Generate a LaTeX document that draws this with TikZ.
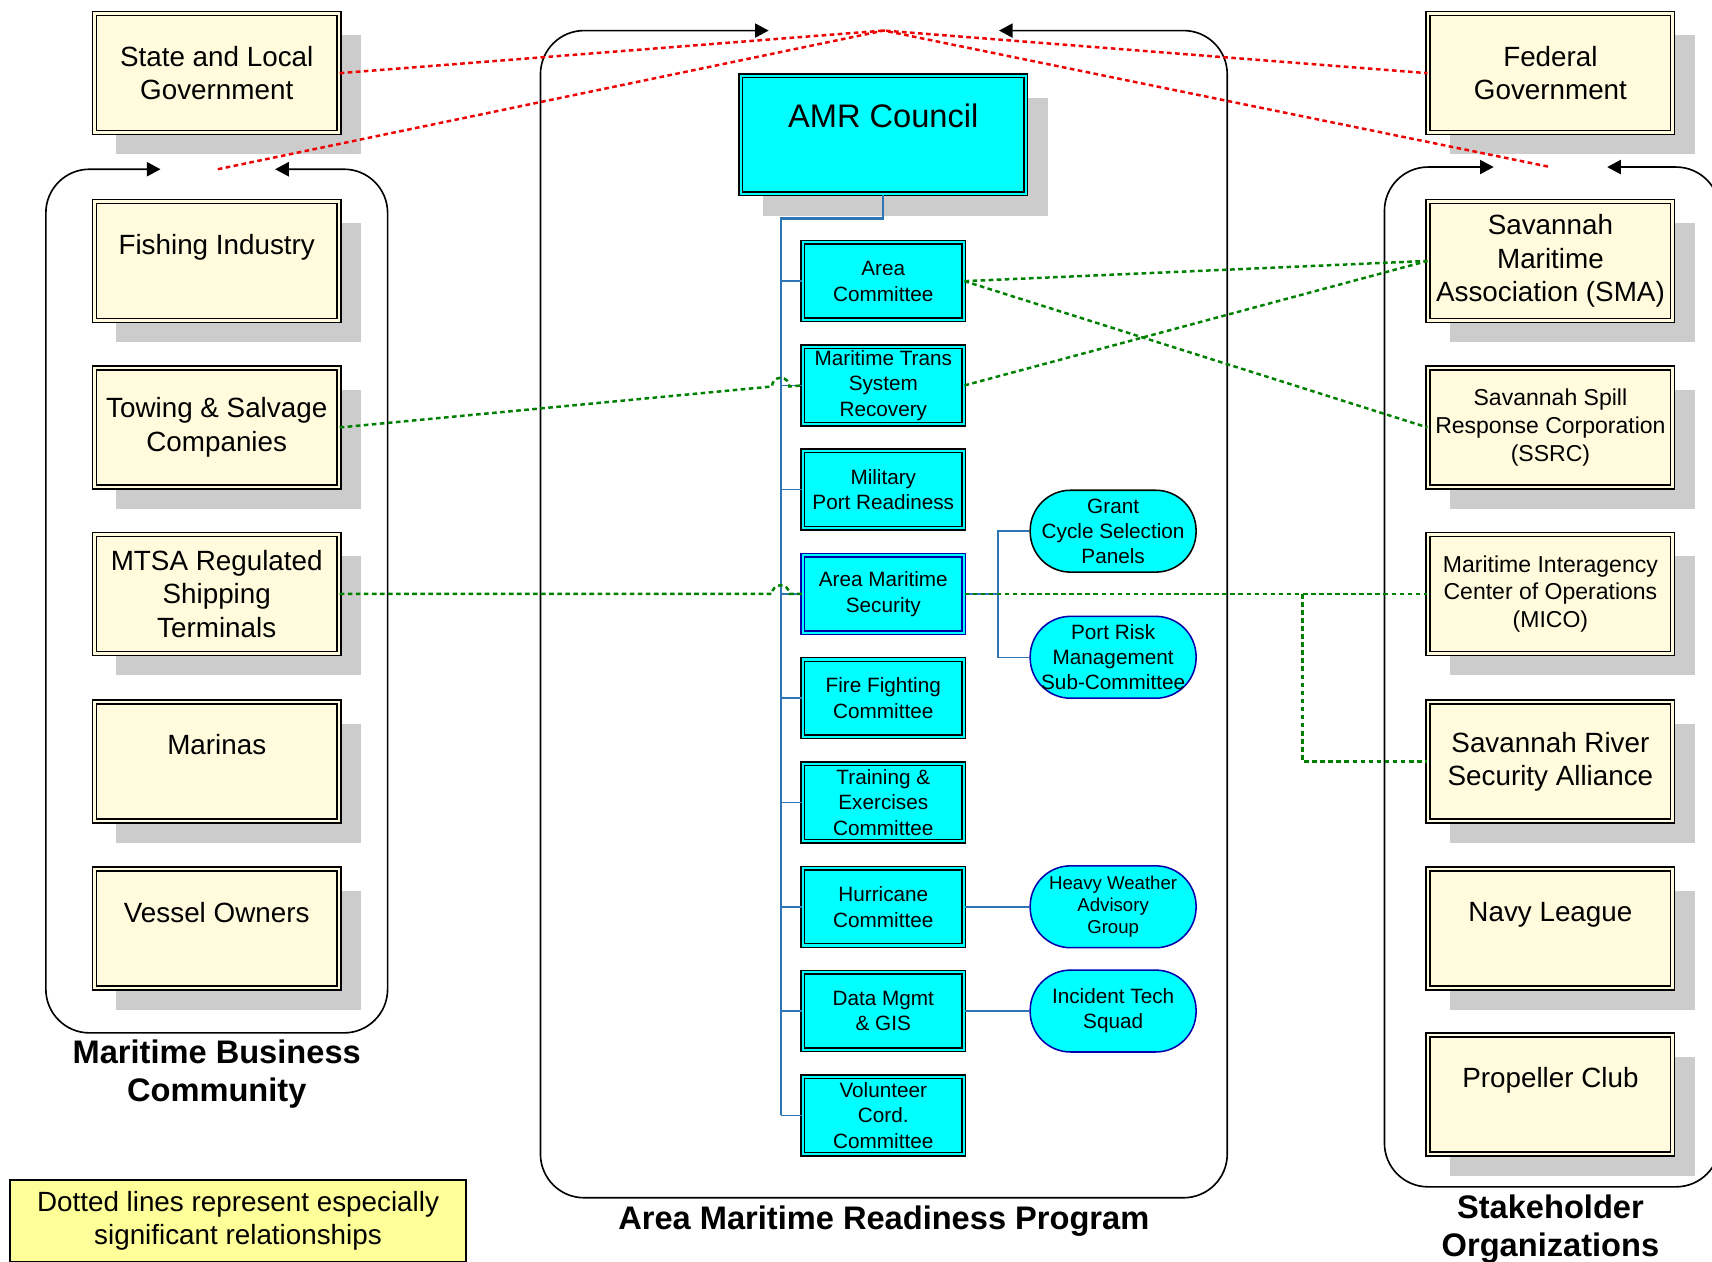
\documentclass[tikz,border=0pt]{standalone}
\usepackage{fontspec}
\setmainfont{Liberation Sans}
\usepackage{tikz}
\usetikzlibrary{arrows.meta,calc,shadows}

\definecolor{orgfill}{RGB}{255,251,220}
\definecolor{shadowgray}{RGB}{204,204,204}
\definecolor{amrcyan}{RGB}{0,255,255}
\definecolor{treeblue}{RGB}{46,117,182}
\definecolor{navyline}{RGB}{0,0,170}
\definecolor{notefill}{RGB}{255,255,153}
\definecolor{relgreen}{RGB}{0,128,0}
\definecolor{relred}{RGB}{240,0,0}

\begin{document}
\begin{tikzpicture}[x=0.02cm, y=-0.02cm,
  boxshadow/.style={general shadow={fill=shadowgray, shadow xshift=0.4cm, shadow yshift=-0.4cm}},
  orgbox/.style={draw=black, line width=0.75pt, double=orgfill, double distance=1.3pt,
    fill=orgfill, minimum width=4.48cm, minimum height=2.18cm, inner sep=1pt, align=center,
    boxshadow, font={\fontsize{14.5}{17.4}\selectfont}},
  cmtebox/.style={draw=black, line width=0.75pt, double=amrcyan, double distance=1.1pt,
    fill=amrcyan, minimum width=2.95cm, minimum height=1.42cm, inner sep=1pt, align=center,
    font={\fontsize{10.8}{13.4}\selectfont}},
  podbox/.style={draw=navyline, line width=0.8pt, fill=amrcyan, rounded corners=0.74cm,
    minimum width=3.04cm, minimum height=1.5cm, inner sep=0pt, align=center,
    font={\fontsize{10.8}{13.1}\selectfont}},
  grouptitle/.style={align=center, font={\bfseries\fontsize{17}{20}\selectfont}},
  legendbox/.style={draw=black, line width=0.8pt, fill=notefill, minimum width=8.36cm,
    minimum height=1.49cm, align=center, font={\fontsize{14.5}{17.1}\selectfont}},
  groupframe/.style={draw=black, line width=0.85pt, rounded corners=0.8cm,
    arrows={Triangle[length=0.25cm,width=0.26cm]-Triangle[length=0.25cm,width=0.26cm]}},
  relline/.style={line width=1.3pt, dash pattern=on 2.4pt off 1.8pt},
  trunkline/.style={draw=treeblue, line width=1.2pt},
  twigline/.style={draw=treeblue, line width=0.8pt}]
% Organigrama del programa de preparación marítima de área
\useasboundingbox (0,0) rectangle (1568,1155);

\coordinate (mbcgap) at (199.5,155);
\coordinate (amrgap) at (809.5,28);
\coordinate (sogap)  at (1420,153);
\draw[groupframe] ($(mbcgap)+(-52.5,0)$) -- (42,155) -- (42,946) -- (355,946) -- (355,155) -- ($(mbcgap)+(52.5,0)$);
\draw[groupframe] ($(amrgap)+(-105.5,0)$) -- (495,28) -- (495,1097) -- (1124,1097) -- (1124,28) -- ($(amrgap)+(105.5,0)$);
\draw[groupframe] ($(sogap)+(-52,0)$) -- (1268,153) -- (1268,1087) -- (1575,1087) -- (1575,153) -- ($(sogap)+(52,0)$);

\node[orgbox] (state)   at (198.5,67)    {State and Local\\Government};
\node[orgbox] (fishing) at (198.5,239)   {Fishing Industry\\\mbox{}};
\node[orgbox] (towing)  at (198.5,391.5) {Towing \& Salvage\\Companies};
\node[orgbox] (mtsa)    at (198.5,544)   {MTSA Regulated\\Shipping\\Terminals};
\node[orgbox] (marinas) at (198.5,697.5) {Marinas\\\mbox{}};
\node[orgbox] (vessel)  at (198.5,850.5) {Vessel Owners\\\mbox{}};

\node[orgbox] (federal) at (1420,67)  {Federal\\Government};
\node[orgbox] (sma)     at (1420,239) {Savannah\\Maritime\\Association (SMA)};
\node[orgbox, font={\fontsize{12}{14.5}\selectfont}] (ssrc) at (1420,391.5) {Savannah Spill\\Response Corporation\\(SSRC)};
\node[orgbox, font={\fontsize{12}{14.5}\selectfont}] (mico) at (1420,544) {Maritime Interagency\\Center of Operations\\(MICO)};
\node[orgbox] (srsa)      at (1420,697.5)  {Savannah River\\Security Alliance};
\node[orgbox] (navy)      at (1420,850.5)  {Navy League\\\mbox{}};
\node[orgbox] (propeller) at (1420,1002.5) {Propeller Club\\\mbox{}};

\node[cmtebox, boxshadow, minimum width=5.22cm, minimum height=2.16cm,
  font={\fontsize{17}{20}\selectfont}] (amr) at (809,123.5) {AMR Council\\\mbox{}};
\node[cmtebox] (area)      at (809,257.5)  {Area\\Committee};
\node[cmtebox] (mts)       at (809,353)    {Maritime Trans\\System\\Recovery};
\node[cmtebox] (mpr)       at (809,448.5)  {Military\\Port Readiness};
\node[cmtebox, draw=navyline] (ams) at (809,544) {Area Maritime\\Security};
\node[cmtebox] (fire)      at (809,639.5)  {Fire Fighting\\Committee};
\node[cmtebox] (training)  at (809,735)    {Training \&\\Exercises\\Committee};
\node[cmtebox] (hurricane) at (809,830.5)  {Hurricane\\Committee};
\node[cmtebox] (datagis)   at (809,926)    {Data Mgmt\\\& GIS};
\node[cmtebox] (volunteer) at (809,1021.5) {Volunteer\\Cord.\\Committee};

\node[podbox, draw=black] (grant) at (1019.5,486.5) {Grant\\Cycle Selection\\Panels};
\node[podbox] (portrisk) at (1019.5,602)   {Port Risk\\Management\\Sub-Committee};
\node[podbox, font={\fontsize{9.7}{11.4}\selectfont}] (heavy) at (1019.5,830.5) {Heavy Weather\\Advisory\\Group};
\node[podbox] (incident) at (1019.5,926)   {Incident Tech\\Squad};

\node[grouptitle] (mbctitle) at (198.5,984)  {Maritime Business\\Community};
\node[grouptitle] (amrtitle) at (809.5,1118.5) {Area Maritime Readiness Program};
\node[grouptitle] (sotitle)  at (1420,1126)  {Stakeholder\\Organizations};
\node[legendbox] (legend) at (218,1118) {Dotted lines represent especially\\significant relationships};

\coordinate (trunk) at (715,200);
\draw[trunkline] (amr.south) |- (trunk) -- (trunk |- volunteer.west);
\foreach \c in {area,mts,mpr,ams,fire,training,hurricane,datagis,volunteer}
  \draw[twigline] (trunk |- \c.west) -- (\c.west);
\coordinate (amsfork) at (914,544);
\draw[twigline] (ams.east) -- (amsfork) (grant.west) -| (amsfork) |- (portrisk.west);
\draw[twigline] (hurricane.east) -- (heavy.west);
\draw[twigline] (datagis.east) -- (incident.west);

\draw[relline, relred] (state.east) -- (amrgap) -- (federal.west);
\draw[relline, relred] (mbcgap) -- (amrgap) -- (sogap);

\draw[relline, relgreen] (area.east) -- (sma.west);
\draw[relline, relgreen] (area.east) -- (ssrc.west);
\draw[relline, relgreen] (mts.east) -- (sma.west);
\draw[relline, relgreen] (towing.east) -- ($(trunk |- mts.west)+(-8,1)$)
  arc[start angle=180, end angle=0, radius=0.16cm] -- (mts.west);
\draw[relline, relgreen] (mtsa.east) -- ($(trunk |- ams.west)+(-8,0)$)
  arc[start angle=180, end angle=0, radius=0.16cm] -- (ams.west);
\draw[relline, relgreen] (ams.east) -- (mico.west);
\coordinate (micofork) at (1193,544);
\draw[relline, relgreen] (micofork) |- (srsa.west);
\end{tikzpicture}
\end{document}
